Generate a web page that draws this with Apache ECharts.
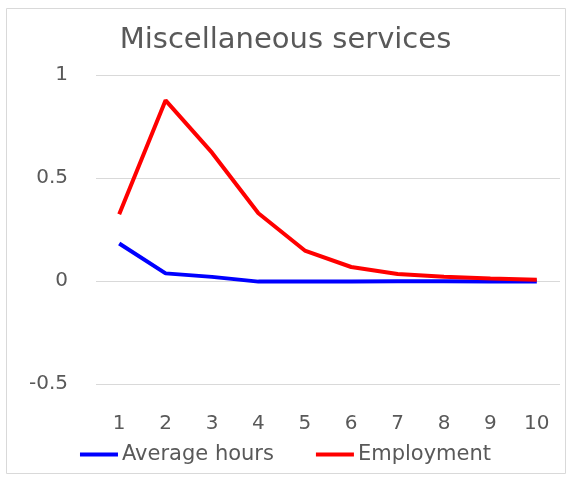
<!DOCTYPE html>
<html>
<head>
<meta charset="utf-8">
<script src="https://cdn.jsdelivr.net/npm/echarts@6/dist/echarts.min.js"></script>
<style>
  html, body { margin: 0; padding: 0; background: #fff; }
  #chart { width: 571px; height: 479px; }
</style>
</head>
<body>
<div id="chart"></div>
<script>
// periods after the shock
var periods = ['1', '2', '3', '4', '5', '6', '7', '8', '9', '10'];
var avgHours = [0.182, 0.037, 0.020, -0.003, -0.003, -0.003, -0.001, -0.001, -0.002, -0.002];
var employment = [0.324, 0.877, 0.623, 0.329, 0.148, 0.068, 0.034, 0.021, 0.012, 0.006];

var textColor = '#595959';
var fontName = 'DejaVu Sans';

var myChart = echarts.init(document.getElementById('chart'));
var option = {
    animation: false,
    graphic: [{
        type: 'rect',
        shape: {x: 6.5, y: 8.5, width: 559, height: 465},
        style: {fill: 'none', stroke: '#d9d9d9', lineWidth: 1},
        silent: true
    }],
    title: {
        text: 'Miscellaneous services',
        left: 'center',
        top: 21,
        textStyle: {color: textColor, fontFamily: fontName, fontWeight: 'normal', fontSize: 29}
    },
    legend: {
        bottom: 9,
        left: 'center',
        icon: 'rect',
        itemWidth: 38,
        itemHeight: 4,
        itemGap: 42,
        textStyle: {color: textColor, fontFamily: fontName, fontSize: 21, padding: [0, 0, 0, -1]},
        data: ['Average hours', 'Employment']
    },
    grid: {
        left: 96,
        right: 11,
        top: 75,
        bottom: 95
    },
    xAxis: {
        type: 'category',
        data: periods,
        boundaryGap: true,
        axisLine: {show: false},
        axisTick: {show: false},
        axisLabel: {color: textColor, fontFamily: fontName, fontSize: 20, margin: 30}
    },
    yAxis: {
        type: 'value',
        min: -0.5,
        max: 1,
        interval: 0.5,
        axisLabel: {color: textColor, fontFamily: fontName, fontSize: 20, margin: 28},
        splitLine: {lineStyle: {color: '#d9d9d9', width: 1}}
    },
    series: [{
        name: 'Average hours',
        type: 'line',
        data: avgHours,
        symbol: 'none',
        lineStyle: {color: '#0000ff', width: 4},
        itemStyle: {color: '#0000ff'}
    }, {
        name: 'Employment',
        type: 'line',
        data: employment,
        symbol: 'none',
        lineStyle: {color: '#ff0000', width: 4},
        itemStyle: {color: '#ff0000'}
    }]
};
myChart.setOption(option);
</script>
</body>
</html>
